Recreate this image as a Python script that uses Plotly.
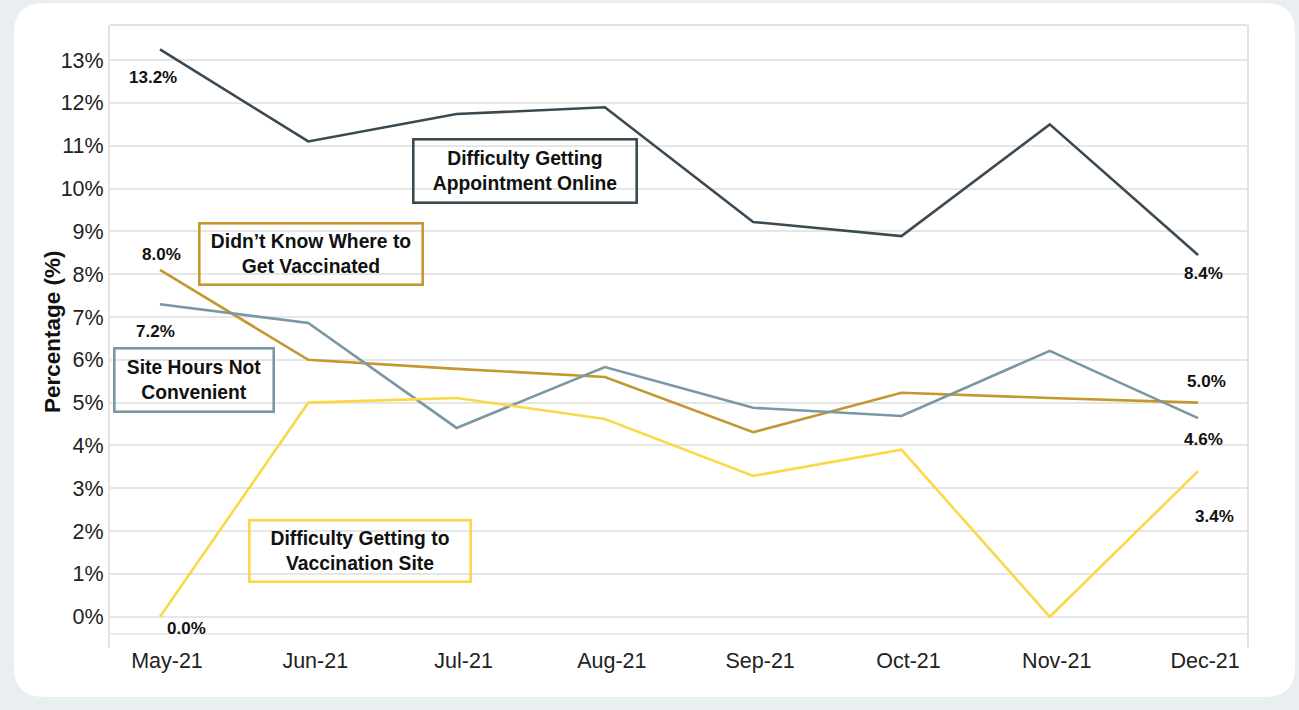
import plotly.graph_objects as go

months = ["May-21", "Jun-21", "Jul-21", "Aug-21", "Sep-21", "Oct-21", "Nov-21", "Dec-21"]
appointment_online = [13.25, 11.1, 11.74, 11.9, 9.22, 8.89, 11.5, 8.45]
didnt_know_where = [8.1, 6.0, 5.79, 5.6, 4.31, 5.23, 5.11, 5.0]
site_hours = [7.3, 6.86, 4.41, 5.83, 4.88, 4.69, 6.21, 4.64]
getting_to_site = [0.0, 5.0, 5.11, 4.62, 3.29, 3.9, 0.0, 3.4]
y_ticks = list(range(0, 14))
y_tick_labels = [f"{v}%" for v in y_ticks]

C_DARK = "#3b4a52"
C_GOLD = "#c4972f"
C_BLUE = "#7b97a3"
C_YEL = "#fad848"

W, H = 1299, 710
ML, MR, MT, MB = 110, 52, 25, 62
PW, PH = W - ML - MR, H - MT - MB


def px(x):
    return (x - ML) / PW


def py(y):
    return (H - MB - y) / PH


fig = go.Figure()
xi = list(range(len(months)))
series = [
    ("Difficulty Getting Appointment Online", appointment_online, C_DARK),
    ("Didn't Know Where to Get Vaccinated", didnt_know_where, C_GOLD),
    ("Site Hours Not Convenient", site_hours, C_BLUE),
    ("Difficulty Getting to Vaccination Site", getting_to_site, C_YEL),
]
for name, vals, col in series:
    fig.add_trace(go.Scatter(x=xi, y=vals, mode="lines", name=name,
                             line=dict(color=col, width=2.6), showlegend=False))

# rounded white panel
x0, x1, y0, y1, r = 14, 1295, 3, 697, 30
rx, ry = r / PW, r / PH
X0, X1, Y0, Y1 = px(x0), px(x1), py(y1), py(y0)
path = (f"M {X0+rx},{Y0} L {X1-rx},{Y0} Q {X1},{Y0} {X1},{Y0+ry} "
        f"L {X1},{Y1-ry} Q {X1},{Y1} {X1-rx},{Y1} L {X0+rx},{Y1} "
        f"Q {X0},{Y1} {X0},{Y1-ry} L {X0},{Y0+ry} Q {X0},{Y0} {X0+rx},{Y0} Z")
fig.add_shape(type="path", path=path, xref="paper", yref="paper",
              fillcolor="white", line=dict(width=0), layer="below")
# frame top line and bottom line
fig.add_shape(type="line", xref="paper", yref="paper", x0=0, x1=1, y0=1, y1=1,
              line=dict(color="#e3e3e3", width=2), layer="below")
fig.add_shape(type="line", xref="paper", yref="y", x0=0, x1=1, y0=-0.4, y1=-0.4,
              line=dict(color="#e6e6e6", width=1.5), layer="below")

# data labels
def lab(i, vals, text, xs, ys):
    fig.add_annotation(x=i, y=vals[i], text=f"<b>{text}</b>", showarrow=False,
                       xshift=xs, yshift=ys, font=dict(size=17, color="#111"))

lab(0, appointment_online, "13.2%", -7, -28)
lab(0, didnt_know_where, "8.0%", 2, 15)
lab(0, site_hours, "7.2%", -4, -27)
lab(0, getting_to_site, "0.0%", 27, -12)
lab(7, appointment_online, "8.4%", 5, -19)
lab(7, didnt_know_where, "5.0%", 8, 21)
lab(7, site_hours, "4.6%", 5, -21)
lab(7, getting_to_site, "3.4%", 16, -45)

# boxed series labels (centre pixel, size pixel)
boxes = [
    ("Difficulty Getting<br>Appointment Online", C_DARK, 525, 171, 224, 64),
    ("Didn\u2019t Know Where to<br>Get Vaccinated", C_GOLD, 311, 254, 224, 62),
    ("Site Hours Not<br>Convenient", C_BLUE, 194, 380, 160, 64),
    ("Difficulty Getting to<br>Vaccination Site", C_YEL, 360, 551, 222, 62),
]
for text, col, cx, cy, bw, bh in boxes:
    fig.add_annotation(x=px(cx), y=py(cy), xref="paper", yref="paper",
                       text=f"<b>{text}</b>", showarrow=False,
                       font=dict(size=19.3, color="#111"),
                       bordercolor=col, borderwidth=2.6, borderpad=0,
                       width=bw - 3, height=bh - 3, bgcolor="rgba(255,255,255,0)",
                       xanchor="center", yanchor="middle")

# y-axis title
fig.add_annotation(x=px(52), y=py(332), xref="paper", yref="paper",
                   text="<b>Percentage (%)</b>", textangle=-90, showarrow=False,
                   font=dict(size=22.5, color="#111"), xanchor="center", yanchor="middle")

fig.update_layout(
    width=W, height=H,
    margin=dict(l=ML, r=MR, t=MT, b=MB),
    paper_bgcolor="#e9eef1",
    plot_bgcolor="rgba(0,0,0,0)",
    font=dict(family="Arial, Liberation Sans, sans-serif", color="#222"),
    xaxis=dict(range=[-0.337, 7.33], tickmode="array", tickvals=xi, ticktext=months,
               showgrid=False, zeroline=False, ticks="", tickfont=dict(size=21.5, color="#222"),
               ticklabelshift=7, ticklabelstandoff=-3, fixedrange=True),
    yaxis=dict(range=[-0.73, 13.82], tickmode="array", tickvals=y_ticks, ticktext=y_tick_labels,
               showgrid=True, gridcolor="#e6e6e6", gridwidth=1.5, zeroline=False,
               showline=True, mirror=True, linecolor="#e3e3e3", linewidth=2,
               ticks="", tickfont=dict(size=21.5, color="#222"), fixedrange=True),
)

fig.write_html("out.html", config={"displayModeBar": False},
               post_script="document.body.style.margin='0';document.body.style.overflow='hidden';")
